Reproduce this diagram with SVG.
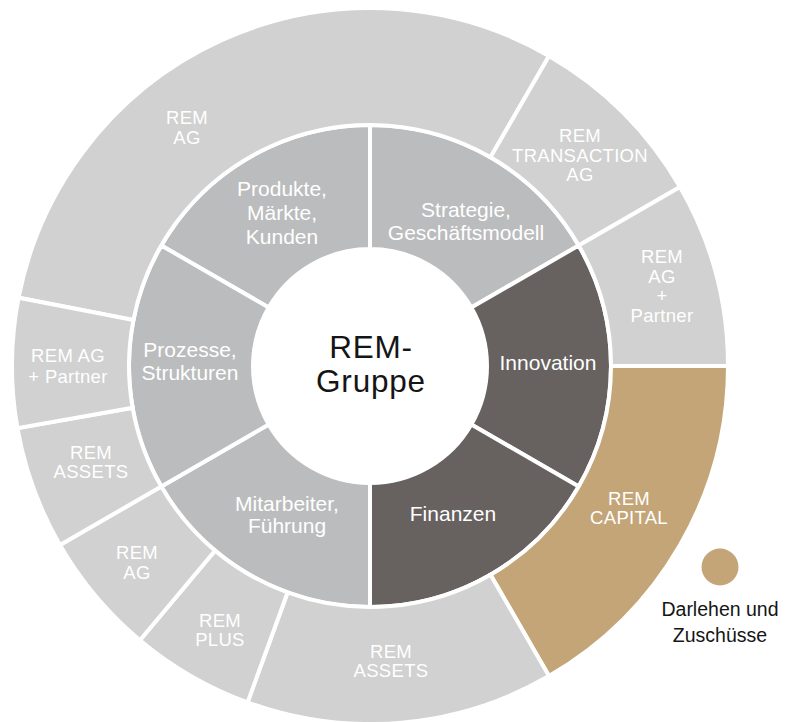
<svg xmlns="http://www.w3.org/2000/svg" width="796" height="722" viewBox="0 0 796 722">
<style>
.seg{stroke:#fff;stroke-width:4;stroke-linejoin:miter}
.outer{fill:#d0d1d0}
.inner{fill:#bbbcbd}
.dark{fill:#67625f}
.gold{fill:#c3a577}
text{font-family:"Liberation Sans",Arial,Helvetica,sans-serif;text-anchor:middle}
.lo{fill:#fff;font-size:18.5px;letter-spacing:0.3px}
.li{fill:#fff;font-size:21px}
.center{fill:#151515;font-size:31.5px;letter-spacing:0.8px}
.legend{fill:#151515;font-size:19.5px}
</style>
<rect width="796" height="722" fill="#fff"/>
<g id="inner-ring">
<g id="produkte"><path class="seg inner" d="M 161.29 245.5 A 241 241 0 0 1 370 125 L 370 249 A 117 117 0 0 0 268.68 307.5 Z"/>
<text class="li"><tspan x="282" y="196">Produkte,</tspan><tspan x="282" y="220">Märkte,</tspan><tspan x="282" y="244">Kunden</tspan></text></g>
<g id="strategie"><path class="seg inner" d="M 370 125 A 241 241 0 0 1 578.71 245.5 L 471.32 307.5 A 117 117 0 0 0 370 249 Z"/>
<text class="li"><tspan x="466" y="217">Strategie,</tspan><tspan x="466" y="240">Geschäftsmodell</tspan></text></g>
<g id="innovation"><path class="seg dark" d="M 578.71 245.5 A 241 241 0 0 1 578.71 486.5 L 471.32 424.5 A 117 117 0 0 0 471.32 307.5 Z"/>
<text class="li" x="548" y="370">Innovation</text></g>
<g id="finanzen"><path class="seg dark" d="M 578.71 486.5 A 241 241 0 0 1 370 607 L 370 483 A 117 117 0 0 0 471.32 424.5 Z"/>
<text class="li" x="453" y="521">Finanzen</text></g>
<g id="mitarbeiter"><path class="seg inner" d="M 370 607 A 241 241 0 0 1 161.29 486.5 L 268.68 424.5 A 117 117 0 0 0 370 483 Z"/>
<text class="li"><tspan x="287" y="511">Mitarbeiter,</tspan><tspan x="287" y="533">Führung</tspan></text></g>
<g id="prozesse"><path class="seg inner" d="M 161.29 486.5 A 241 241 0 0 1 161.29 245.5 L 268.68 307.5 A 117 117 0 0 0 268.68 424.5 Z"/>
<text class="li"><tspan x="190" y="357">Prozesse,</tspan><tspan x="190" y="380">Strukturen</tspan></text></g>
</g>
<g id="outer-ring">
<g id="rem-ag-top"><path class="seg outer" d="M 18.59 297.69 A 358 358 0 0 1 549 55.96 L 490.5 157.29 A 241 241 0 0 0 133.43 320.02 Z"/>
<text class="lo"><tspan x="187" y="124">REM</tspan><tspan x="187" y="144">AG</tspan></text></g>
<g id="rem-transaction"><path class="seg outer" d="M 549 55.96 A 358 358 0 0 1 680.04 187 L 578.71 245.5 A 241 241 0 0 0 490.5 157.29 Z"/>
<text class="lo"><tspan x="580" y="142">REM</tspan><tspan x="580" y="162">TRANSACTION</tspan><tspan x="580" y="181">AG</tspan></text></g>
<g id="rem-ag-partner-right"><path class="seg outer" d="M 680.04 187 A 358 358 0 0 1 728 366 L 611 366 A 241 241 0 0 0 578.71 245.5 Z"/>
<text class="lo"><tspan x="662" y="263">REM</tspan><tspan x="662" y="283">AG</tspan><tspan x="662" y="302">+</tspan><tspan x="662" y="322">Partner</tspan></text></g>
<g id="rem-capital"><path class="seg gold" d="M 728 366 A 358 358 0 0 1 549 676.04 L 490.5 574.71 A 241 241 0 0 0 611 366 Z"/>
<text class="lo"><tspan x="629" y="505">REM</tspan><tspan x="629" y="524">CAPITAL</tspan></text></g>
<g id="rem-assets-bottom"><path class="seg outer" d="M 549 676.04 A 358 358 0 0 1 247.56 702.41 L 287.58 592.47 A 241 241 0 0 0 490.5 574.71 Z"/>
<text class="lo"><tspan x="391" y="658">REM</tspan><tspan x="391" y="677">ASSETS</tspan></text></g>
<g id="rem-plus"><path class="seg outer" d="M 247.56 702.41 A 358 358 0 0 1 139.88 640.23 L 215.09 550.61 A 241 241 0 0 0 287.58 592.47 Z"/>
<text class="lo"><tspan x="220" y="627">REM</tspan><tspan x="220" y="646">PLUS</tspan></text></g>
<g id="rem-ag-lower"><path class="seg outer" d="M 139.88 640.23 A 358 358 0 0 1 59.96 545 L 161.29 486.5 A 241 241 0 0 0 215.09 550.61 Z"/>
<text class="lo"><tspan x="137" y="559">REM</tspan><tspan x="137" y="579">AG</tspan></text></g>
<g id="rem-assets-left"><path class="seg outer" d="M 59.96 545 A 358 358 0 0 1 17.44 428.15 L 132.66 407.84 A 241 241 0 0 0 161.29 486.5 Z"/>
<text class="lo"><tspan x="91" y="459">REM</tspan><tspan x="91" y="478">ASSETS</tspan></text></g>
<g id="rem-ag-partner-left"><path class="seg outer" d="M 17.44 428.15 A 358 358 0 0 1 18.59 297.69 L 133.43 320.02 A 241 241 0 0 0 132.66 407.84 Z"/>
<text class="lo"><tspan x="68" y="362">REM AG</tspan><tspan x="68" y="383">+ Partner</tspan></text></g>
</g>
<g id="center">
<text class="center"><tspan x="371" y="358">REM-</tspan><tspan x="371" y="392">Gruppe</tspan></text>
</g>
<g id="legend">
<circle cx="720" cy="567" r="18.5" class="gold"/>
<text class="legend"><tspan x="720" y="616">Darlehen und</tspan><tspan x="720" y="642">Zuschüsse</tspan></text>
</g>
<g id="connectors"/>
</svg>
